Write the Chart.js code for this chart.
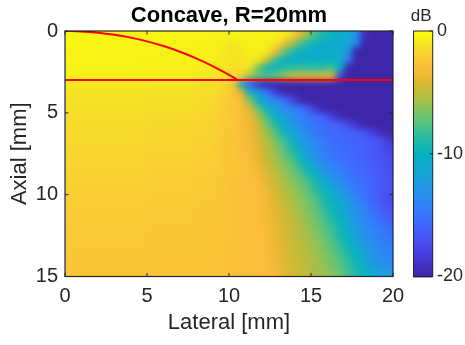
<!DOCTYPE html>
<html><head><meta charset="utf-8">
<script src="https://cdn.jsdelivr.net/npm/chart.js@4.4.1/dist/chart.umd.min.js"></script>
<style>html,body{margin:0;padding:0;background:#fff;}canvas{display:block;}</style>
</head><body>
<canvas id="c" width="465" height="345" style="width:465px;height:345px"></canvas>
<script>
// ---- data ----
const lateralCenters = [0.25,0.75,1.25,1.75,2.25,2.75,3.25,3.75,4.25,4.75,5.25,5.75,6.25,6.75,7.25,7.75,8.25,8.75,9.25,9.75,10.25,10.75,11.25,11.75,12.25,12.75,13.25,13.75,14.25,14.75,15.25,15.75,16.25,16.75,17.25,17.75,18.25,18.75,19.25,19.75];
const axialCenters = [0.25,0.75,1.25,1.75,2.25,2.75,3.25,3.75,4.25,4.75,5.25,5.75,6.25,6.75,7.25,7.75,8.25,8.75,9.25,9.75,10.25,10.75,11.25,11.75,12.25,12.75,13.25,13.75,14.25,14.75];
const dbMap = [
[-0.2,-0.2,-0.2,-0.2,-0.2,-0.2,-0.3,-0.3,-0.3,-0.3,-0.3,-0.3,-0.3,-0.3,-0.3,-0.3,-0.4,-0.4,-0.4,-0.4,-0.4,-0.4,-0.4,-0.4,-0.4,-0.4,-0.5,-1.5,-4,-6,-8,-9,-9.7,-10.2,-10.8,-13,-19,-20,-20,-20],
[-0.2,-0.2,-0.2,-0.3,-0.3,-0.3,-0.3,-0.3,-0.3,-0.3,-0.3,-0.3,-0.3,-0.4,-0.4,-0.4,-0.4,-0.4,-0.5,-0.6,-0.8,-0.6,-0.5,-0.5,-0.5,-0.6,-2.3,-5,-7.3,-8.8,-9.8,-10.3,-10.6,-10.8,-11.5,-13.5,-20,-20,-20,-20],
[-0.3,-0.3,-0.3,-0.3,-0.3,-0.3,-0.4,-0.4,-0.4,-0.4,-0.4,-0.4,-0.4,-0.4,-0.4,-0.4,-0.5,-0.5,-0.6,-0.8,-1.0,-0.8,-0.6,-0.6,-0.8,-3,-6.3,-8.6,-9.8,-10.4,-10.6,-10.6,-10.5,-10.8,-12.5,-20,-20,-20,-20,-20],
[-0.3,-0.3,-0.3,-0.3,-0.4,-0.4,-0.4,-0.4,-0.4,-0.4,-0.4,-0.4,-0.4,-0.4,-0.5,-0.5,-0.5,-0.6,-0.7,-0.9,-1.1,-0.9,-0.7,-0.9,-4.5,-8,-9.8,-10.3,-10.5,-10.2,-10,-10,-10,-10.5,-15,-20,-20,-20,-20,-20],
[-0.4,-0.4,-0.4,-0.4,-0.4,-0.4,-0.4,-0.4,-0.4,-0.5,-0.5,-0.5,-0.5,-0.5,-0.5,-0.5,-0.6,-0.7,-0.8,-1.0,-1.3,-1.0,-1.2,-7,-9.5,-9.8,-9,-8.5,-8.5,-8.5,-8.5,-8.5,-8,-10,-20,-20,-20,-20,-20,-20],
[-0.5,-0.5,-0.5,-0.5,-0.5,-0.5,-0.5,-0.5,-0.5,-0.5,-0.5,-0.5,-0.6,-0.6,-0.6,-0.6,-0.7,-0.8,-0.9,-1.1,-1.5,-2,-6,-7,-7.5,-7,-6,-4.5,-4,-4,-4,-3.8,-4,-18,-20,-20,-20,-20,-20,-20],
[-0.9,-0.9,-0.9,-0.9,-0.9,-0.9,-0.9,-0.9,-0.9,-0.9,-1.0,-1.0,-1.0,-1.0,-1.0,-1.0,-1.2,-1.2,-1.3,-1.6,-2.5,-10,-16.1,-19,-20,-20,-20,-20,-20,-20,-20,-20,-20,-20,-20,-20,-20,-20,-20,-20],
[-1.0,-1.0,-1.0,-1.0,-1.0,-1.0,-1.0,-1.0,-1.0,-1.0,-1.15,-1.15,-1.15,-1.15,-1.15,-1.15,-1.3,-1.3,-1.4,-1.8,-2.6,-4.1,-10.7,-12.4,-15.1,-17.8,-19.8,-20,-20,-20,-20,-20,-20,-20,-20,-20,-20,-20,-20,-20],
[-1.1,-1.1,-1.1,-1.1,-1.1,-1.1,-1.1,-1.1,-1.1,-1.1,-1.25,-1.25,-1.25,-1.25,-1.25,-1.25,-1.4,-1.4,-1.6,-2.0,-2.6,-3.2,-6.4,-10.25,-12.2,-13.4,-14.9,-17.2,-19.3,-20,-20,-20,-20,-20,-20,-20,-20,-20,-20,-20],
[-1.2,-1.2,-1.2,-1.2,-1.2,-1.2,-1.2,-1.2,-1.2,-1.2,-1.35,-1.35,-1.35,-1.35,-1.35,-1.35,-1.5,-1.5,-1.7,-2.2,-2.6,-2.9,-4.3,-7.1,-9.7,-11.4,-12.9,-13.6,-14.4,-16.2,-18.4,-19.9,-20,-20,-20,-20,-20,-20,-20,-20],
[-1.3,-1.3,-1.3,-1.3,-1.3,-1.3,-1.3,-1.3,-1.3,-1.3,-1.45,-1.45,-1.45,-1.45,-1.45,-1.45,-1.6,-1.6,-1.8,-2.1,-2.5,-2.85,-3.6,-5.3,-7.6,-10.0,-11.8,-13.1,-14.0,-14.8,-15.3,-16.0,-17.8,-19.4,-20,-20,-20,-20,-20,-20],
[-1.4,-1.4,-1.4,-1.4,-1.4,-1.4,-1.4,-1.4,-1.4,-1.4,-1.55,-1.55,-1.55,-1.55,-1.55,-1.55,-1.7,-1.7,-1.9,-2.2,-2.5,-2.8,-3.5,-4.7,-6.6,-8.6,-10.4,-12.2,-13.4,-14.3,-15.0,-15.4,-15.7,-16.0,-17.1,-18.7,-19.9,-20,-20,-20],
[-1.45,-1.45,-1.45,-1.45,-1.45,-1.45,-1.45,-1.45,-1.45,-1.45,-1.6,-1.6,-1.6,-1.6,-1.6,-1.6,-1.75,-1.75,-1.95,-2.25,-2.55,-2.8,-3.3,-4.4,-5.7,-7.2,-9.1,-10.9,-12.6,-13.8,-14.6,-15.2,-15.5,-15.7,-15.9,-16.1,-16.6,-18.0,-19.4,-20],
[-1.5,-1.5,-1.5,-1.5,-1.5,-1.5,-1.5,-1.5,-1.5,-1.5,-1.65,-1.65,-1.65,-1.65,-1.65,-1.65,-1.8,-1.8,-2.0,-2.3,-2.55,-2.8,-3.2,-4.2,-5.3,-6.4,-7.7,-9.5,-11.4,-12.9,-13.9,-14.7,-15.2,-15.5,-15.7,-15.9,-16.1,-16.5,-17.0,-18.3],
[-1.6,-1.6,-1.6,-1.6,-1.6,-1.6,-1.6,-1.6,-1.6,-1.6,-1.75,-1.75,-1.75,-1.75,-1.75,-1.75,-1.9,-1.9,-2.05,-2.35,-2.6,-2.8,-3.1,-4.0,-5.0,-5.9,-7.0,-8.6,-10.3,-12.2,-13.4,-14.3,-14.9,-15.3,-15.6,-15.8,-16.1,-16.5,-17.0,-17.6],
[-1.65,-1.65,-1.65,-1.65,-1.65,-1.65,-1.65,-1.65,-1.65,-1.65,-1.8,-1.8,-1.8,-1.8,-1.8,-1.8,-1.95,-1.95,-2.1,-2.4,-2.6,-2.8,-3.0,-3.8,-4.8,-5.6,-6.6,-7.7,-9.5,-11.4,-12.9,-13.9,-14.6,-15.1,-15.4,-15.7,-16.0,-16.4,-16.9,-17.4],
[-1.7,-1.7,-1.7,-1.7,-1.7,-1.7,-1.7,-1.7,-1.7,-1.7,-1.85,-1.85,-1.85,-1.85,-1.85,-1.85,-2.0,-2.0,-2.1,-2.4,-2.6,-2.75,-2.95,-3.5,-4.4,-5.3,-6.1,-7.0,-8.3,-10.0,-11.8,-13.2,-14.1,-14.7,-15.1,-15.4,-15.8,-16.2,-16.7,-17.2],
[-1.8,-1.8,-1.8,-1.8,-1.8,-1.8,-1.8,-1.8,-1.8,-1.8,-1.95,-1.95,-1.95,-1.95,-1.95,-1.95,-2.1,-2.1,-2.2,-2.45,-2.65,-2.8,-2.9,-3.3,-4.1,-4.9,-5.7,-6.5,-7.4,-8.9,-10.2,-12.1,-13.3,-14.2,-14.8,-15.2,-15.6,-16.0,-16.5,-17.0],
[-1.85,-1.85,-1.85,-1.85,-1.85,-1.85,-1.85,-1.85,-1.85,-1.85,-2.0,-2.0,-2.0,-2.0,-2.0,-2.0,-2.15,-2.15,-2.25,-2.5,-2.7,-2.8,-2.9,-3.0,-3.8,-4.6,-5.3,-6.1,-6.9,-7.9,-9.2,-10.3,-12.3,-13.5,-14.3,-14.9,-15.4,-15.9,-16.4,-17.0],
[-1.9,-1.9,-1.9,-1.9,-1.9,-1.9,-1.9,-1.9,-1.9,-1.9,-2.05,-2.05,-2.05,-2.05,-2.05,-2.05,-2.2,-2.2,-2.3,-2.5,-2.7,-2.8,-2.9,-3.0,-3.5,-4.3,-5.0,-5.7,-6.5,-7.3,-8.4,-9.6,-10.4,-12.5,-13.6,-14.4,-15.1,-15.8,-16.4,-17.0],
[-2.0,-2.0,-2.0,-2.0,-2.0,-2.0,-2.0,-2.0,-2.0,-2.0,-2.15,-2.15,-2.15,-2.15,-2.15,-2.15,-2.3,-2.3,-2.35,-2.55,-2.7,-2.8,-2.9,-2.95,-3.3,-4.0,-4.7,-5.4,-6.1,-6.8,-7.6,-8.9,-9.9,-11.3,-12.8,-13.9,-14.8,-15.8,-16.7,-17.3],
[-2.05,-2.05,-2.05,-2.05,-2.05,-2.05,-2.05,-2.05,-2.05,-2.05,-2.2,-2.2,-2.2,-2.2,-2.2,-2.2,-2.35,-2.35,-2.4,-2.6,-2.75,-2.85,-2.9,-2.95,-3.25,-3.9,-4.6,-5.2,-5.8,-6.5,-7.3,-8.4,-9.6,-10.5,-12.2,-13.3,-14.3,-15.4,-16.3,-16.9],
[-2.1,-2.1,-2.1,-2.1,-2.1,-2.1,-2.1,-2.1,-2.1,-2.1,-2.25,-2.25,-2.25,-2.25,-2.25,-2.25,-2.4,-2.4,-2.45,-2.6,-2.75,-2.85,-2.9,-2.95,-3.2,-3.8,-4.4,-5.0,-5.6,-6.2,-7.0,-7.9,-9.1,-10.1,-11.6,-13.0,-14.0,-14.9,-15.8,-16.4],
[-2.15,-2.15,-2.15,-2.15,-2.15,-2.15,-2.15,-2.15,-2.15,-2.15,-2.3,-2.3,-2.3,-2.3,-2.3,-2.3,-2.45,-2.45,-2.5,-2.65,-2.75,-2.85,-2.9,-2.95,-3.1,-3.7,-4.3,-4.9,-5.4,-5.9,-6.7,-7.5,-8.6,-9.8,-10.9,-12.7,-13.6,-14.4,-15.2,-15.9],
[-2.2,-2.2,-2.2,-2.2,-2.2,-2.2,-2.2,-2.2,-2.2,-2.2,-2.35,-2.35,-2.35,-2.35,-2.35,-2.35,-2.5,-2.5,-2.5,-2.65,-2.75,-2.85,-2.9,-2.95,-3.05,-3.6,-4.2,-4.8,-5.2,-5.7,-6.4,-7.1,-8.0,-9.4,-10.3,-12.2,-13.3,-13.9,-14.6,-15.3],
[-2.25,-2.25,-2.25,-2.25,-2.25,-2.25,-2.25,-2.25,-2.25,-2.25,-2.4,-2.4,-2.4,-2.4,-2.4,-2.4,-2.5,-2.5,-2.55,-2.7,-2.8,-2.85,-2.9,-2.95,-3.0,-3.55,-4.1,-4.65,-5.1,-5.6,-6.1,-6.8,-7.6,-8.9,-9.9,-11.4,-12.9,-13.6,-14.1,-14.7],
[-2.3,-2.3,-2.3,-2.3,-2.3,-2.3,-2.3,-2.3,-2.3,-2.3,-2.45,-2.45,-2.45,-2.45,-2.45,-2.45,-2.55,-2.55,-2.6,-2.7,-2.8,-2.85,-2.9,-2.95,-3.0,-3.5,-4.0,-4.55,-5.0,-5.4,-5.9,-6.5,-7.3,-8.3,-9.5,-10.4,-12.2,-13.3,-13.8,-14.2],
[-2.35,-2.35,-2.35,-2.35,-2.35,-2.35,-2.35,-2.35,-2.35,-2.35,-2.5,-2.5,-2.5,-2.5,-2.5,-2.5,-2.6,-2.6,-2.6,-2.75,-2.8,-2.85,-2.9,-2.95,-3.0,-3.4,-3.9,-4.5,-4.9,-5.3,-5.7,-6.2,-7.0,-7.8,-8.9,-10.0,-11.2,-12.9,-13.5,-13.8],
[-2.4,-2.4,-2.4,-2.4,-2.4,-2.4,-2.4,-2.4,-2.4,-2.4,-2.55,-2.55,-2.55,-2.55,-2.55,-2.55,-2.6,-2.6,-2.65,-2.75,-2.8,-2.85,-2.9,-2.95,-3.0,-3.35,-3.85,-4.35,-4.8,-5.2,-5.6,-6.0,-6.7,-7.5,-8.4,-9.5,-10.3,-12.3,-13.2,-13.5],
[-2.45,-2.45,-2.45,-2.45,-2.45,-2.45,-2.45,-2.45,-2.45,-2.45,-2.6,-2.6,-2.6,-2.6,-2.6,-2.6,-2.65,-2.65,-2.7,-2.8,-2.85,-2.9,-2.9,-2.95,-2.95,-3.25,-3.75,-4.25,-4.7,-5.1,-5.45,-5.8,-6.4,-7.1,-8.0,-9.0,-9.9,-10.9,-11.8,-12.5]
];
const arcLateral = [0,1,2,3,4,5,6,7,8,9,9.5,10,10.5];
const arcAxial   = [0,0.025,0.100,0.226,0.404,0.635,0.921,1.265,1.670,2.140,2.400,2.679,2.981];
const interfaceLateral = [0,20];
const interfaceAxial   = [3,3];
const xTickValues  = [0,5,10,15,20];
const yTickValues  = [0,5,10,15];
const cbTickValues = [0,-10,-20];
const dbRange = [-20,0];
const titleText = 'Concave, R=20mm';

// ---- parula-like colour map ----
const parulaStops = [
[0.00,62,38,168],[0.05,67,50,195],[0.10,71,64,222],[0.15,72,80,240],[0.20,68,97,251],
[0.25,58,115,254],[0.30,46,132,246],[0.35,37,146,234],[0.40,29,158,222],[0.45,18,168,209],
[0.50,8,176,196],[0.55,27,185,173],[0.60,62,192,146],[0.65,104,196,115],[0.70,148,194,84],
[0.75,190,187,58],[0.80,225,184,48],[0.85,251,188,58],[0.90,250,205,52],[0.95,245,228,36],[1.00,249,251,14]];
function dbColor(v){
  let t=(v-dbRange[0])/(dbRange[1]-dbRange[0]);
  t=Math.max(0,Math.min(1,t));
  for(let k=1;k<parulaStops.length;k++){
    const a=parulaStops[k-1], b=parulaStops[k];
    if(t<=b[0]){
      const f=(t-a[0])/(b[0]-a[0]);
      return 'rgb('+Math.round(a[1]+(b[1]-a[1])*f)+','+Math.round(a[2]+(b[2]-a[2])*f)+','+Math.round(a[3]+(b[3]-a[3])*f)+')';
    }
  }
  return 'rgb(249,251,14)';
}

const AX='#262626';
const FONT="'Liberation Sans', Arial, Helvetica, sans-serif";
Chart.defaults.font.family=FONT;
Chart.defaults.color=AX;

const heatmapPlugin={
  id:'heatmap',
  beforeDatasetsDraw(chart){
    const {ctx,chartArea:a,scales:{x,y}}=chart;
    const hx=(lateralCenters[1]-lateralCenters[0])/2, hy=(axialCenters[1]-axialCenters[0])/2;
    const off=document.createElement('canvas');
    off.width=chart.canvas.width; off.height=chart.canvas.height;
    const oc=off.getContext('2d');
    const ext=14, ni=lateralCenters.length, nj=axialCenters.length;
    for(let j=0;j<nj;j++){
      let ya=Math.round(y.getPixelForValue(axialCenters[j]-hy)), yb=Math.round(y.getPixelForValue(axialCenters[j]+hy));
      let y0=Math.min(ya,yb), y1=Math.max(ya,yb);
      if(j===0) y0-=ext; if(j===nj-1) y1+=ext;
      for(let i=0;i<ni;i++){
        let xa=Math.round(x.getPixelForValue(lateralCenters[i]-hx)), xb=Math.round(x.getPixelForValue(lateralCenters[i]+hx));
        let x0=Math.min(xa,xb), x1=Math.max(xa,xb);
        if(i===0) x0-=ext; if(i===ni-1) x1+=ext;
        oc.fillStyle=dbColor(dbMap[j][i]);
        oc.fillRect(x0,y0,x1-x0,y1-y0);
      }
    }
    ctx.save();
    ctx.beginPath();ctx.rect(a.left,a.top,a.right-a.left,a.bottom-a.top);ctx.clip();
    ctx.filter='blur(3px)';
    ctx.drawImage(off,0,0);
    ctx.restore();
  },
  afterDatasetsDraw(chart){
    const {ctx,chartArea:a,scales:{x,y}}=chart;
    ctx.save();
    ctx.strokeStyle=AX;ctx.lineWidth=1.2;
    ctx.strokeRect(a.left,a.top,a.right-a.left,a.bottom-a.top);
    const tl=3.5;
    ctx.lineWidth=1;
    ctx.beginPath();
    xTickValues.forEach(v=>{const p=x.getPixelForValue(v);ctx.moveTo(p,a.bottom);ctx.lineTo(p,a.bottom-tl);ctx.moveTo(p,a.top);ctx.lineTo(p,a.top+tl);});
    yTickValues.forEach(v=>{const p=y.getPixelForValue(v);ctx.moveTo(a.left,p);ctx.lineTo(a.left+tl,p);ctx.moveTo(a.right,p);ctx.lineTo(a.right-tl,p);});
    ctx.stroke();
    ctx.restore();
  },
  afterDraw(chart){
    const {ctx,chartArea:a,scales:{cb}}=chart;
    const left=a.right+20.5, w=19.2;
    const top=cb.getPixelForValue(dbRange[1]), bot=cb.getPixelForValue(dbRange[0]);
    ctx.save();
    const n=128;
    for(let k=0;k<n;k++){
      const v0=dbRange[0]+(dbRange[1]-dbRange[0])*k/n, v1=dbRange[0]+(dbRange[1]-dbRange[0])*(k+1)/n;
      const p0=cb.getPixelForValue(v0), p1=cb.getPixelForValue(v1);
      ctx.fillStyle=dbColor((v0+v1)/2);
      ctx.fillRect(left,Math.floor(p1),w,Math.ceil(p0)-Math.floor(p1)+0.5);
    }
    ctx.strokeStyle=AX;ctx.lineWidth=1;
    ctx.strokeRect(left,top,w,bot-top);
    ctx.beginPath();
    cbTickValues.forEach(v=>{const p=cb.getPixelForValue(v);ctx.moveTo(left+w,p);ctx.lineTo(left+w-3,p);});
    ctx.stroke();
    ctx.fillStyle=AX;ctx.font='17px '+FONT;ctx.textAlign='center';ctx.textBaseline='middle';
    ctx.fillText('dB',left+w/2-2,16);
    // title centred over the axes
    ctx.fillStyle='#000';ctx.font='bold 22px '+FONT;ctx.textAlign='center';ctx.textBaseline='alphabetic';
    ctx.fillText(titleText,(a.left+a.right)/2,21.5);
    ctx.restore();
  }
};

new Chart(document.getElementById('c'),{
  type:'scatter',
  data:{datasets:[
    {label:'arc',data:arcLateral.map((v,k)=>({x:v,y:arcAxial[k]})),showLine:true,borderColor:'#ff0000',borderWidth:2,pointRadius:0,cubicInterpolationMode:'monotone',xAxisID:'x',yAxisID:'y'},
    {label:'interface',data:interfaceLateral.map((v,k)=>({x:v,y:interfaceAxial[k]})),showLine:true,borderColor:'#ff0000',borderWidth:2,pointRadius:0,xAxisID:'x',yAxisID:'y'}
  ]},
  options:{
    responsive:false,animation:false,devicePixelRatio:1,
    layout:{padding:{top:31,left:0,right:0,bottom:0}},
    plugins:{
      legend:{display:false},tooltip:{enabled:false},title:{display:false}
    },
    scales:{
      x:{type:'linear',position:'bottom',min:0,max:20,
        grid:{display:false,drawTicks:false},border:{display:false},
        afterBuildTicks:s=>{s.ticks=xTickValues.map(v=>({value:v}));},
        afterFit:s=>{s.height=68.5;s.paddingLeft=0;s.paddingRight=0;},
        ticks:{padding:8,font:{size:20},color:AX,maxRotation:0,autoSkip:false,callback:v=>String(v)},
        title:{display:true,text:'Lateral [mm]',font:{size:22},color:AX,padding:{top:0,bottom:9}}},
      y:{type:'linear',position:'left',reverse:true,min:0,max:15,
        grid:{display:false,drawTicks:false},border:{display:false},
        afterBuildTicks:s=>{s.ticks=yTickValues.map(v=>({value:v}));},
        afterFit:s=>{s.width=65;s.paddingTop=0;s.paddingBottom=0;},
        ticks:{padding:7,font:{size:20},color:AX,autoSkip:false,callback:v=>String(v)},
        title:{display:true,text:'Axial [mm]',font:{size:22},color:AX,padding:{top:6.3,bottom:0}}},
      cb:{type:'linear',position:'right',min:dbRange[0],max:dbRange[1],
        grid:{display:false,drawTicks:false},border:{display:false},
        afterBuildTicks:s=>{s.ticks=cbTickValues.map(v=>({value:v}));},
        afterFit:s=>{s.width=72;s.paddingTop=0;s.paddingBottom=0;},
        ticks:{padding:44,font:{size:18},color:AX,autoSkip:false,callback:v=>String(v)}}
    }
  },
  plugins:[heatmapPlugin]
});
</script>
</body></html>
